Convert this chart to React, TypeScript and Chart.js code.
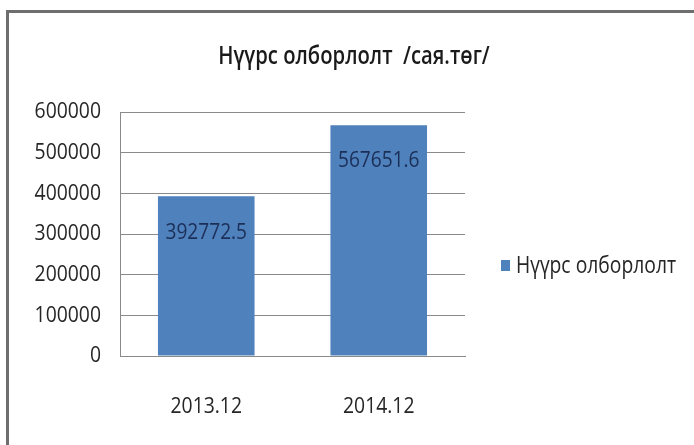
import React, { useEffect, useRef } from "react";
import { Chart, registerables } from "chart.js";
Chart.register(...registerables);

const categories = ["2013.12", "2014.12"];
const values = [392772.5, 567651.6];
const valueLabels = ["392772.5", "567651.6"];
const seriesName = "Нүүрс олборлолт";
const titleText = "Нүүрс олборлолт  /сая.төг/";
const yMin = 0;
const yMax = 600000;
const yStep = 100000;

const FONT = "'Open Sans', 'Liberation Sans', sans-serif";
const BAR = "#4F81BD";
const GRID = "#8a8a8a";
const TEXT = "#262626";

function drawText(
  ctx: CanvasRenderingContext2D,
  text: string,
  x: number,
  y: number,
  size: number,
  weight: string,
  sx: number,
  align: CanvasTextAlign,
  color: string
) {
  ctx.save();
  ctx.translate(x, y);
  ctx.scale(sx, 1);
  ctx.font = `${weight} ${size}px ${FONT}`;
  ctx.fillStyle = color;
  ctx.textAlign = align;
  ctx.textBaseline = "middle";
  ctx.fillText(text, 0, 0);
  ctx.restore();
}

const decor = {
  id: "decor",
  beforeDraw(chart: any) {
    const ctx = chart.ctx;
    ctx.save();
    ctx.fillStyle = "#ffffff";
    ctx.fillRect(0, 0, chart.width, chart.height);
    ctx.strokeStyle = "#6e6e6e";
    ctx.lineWidth = 3;
    ctx.beginPath();
    ctx.moveTo(7.5, chart.height);
    ctx.lineTo(7.5, 11.5);
    ctx.lineTo(chart.width, 11.5);
    ctx.stroke();
    ctx.restore();
  },
  afterDatasetsDraw(chart: any) {
    const ctx = chart.ctx;
    const meta = chart.getDatasetMeta(0);
    meta.data.forEach((el: any, i: number) => {
      drawText(ctx, valueLabels[i], el.x, el.y + 36, 22, "normal", 0.87, "center", "#1c2f57");
    });
  },
  afterDraw(chart: any) {
    const ctx = chart.ctx;
    // axis tick labels
    const ys = chart.scales.y;
    ys.ticks.forEach((t: any, i: number) => {
      drawText(ctx, String(t.value), 101, ys.getPixelForTick(i), 22, "normal", 0.88, "right", TEXT);
    });
    const xs = chart.scales.x;
    categories.forEach((c, i) => {
      drawText(ctx, c, xs.getPixelForTick(i), 407, 22, "normal", 0.88, "center", TEXT);
    });
    // title
    drawText(ctx, titleText, 354, 57, 25, "600", 0.81, "center", "#1a1a1a");
    // legend
    ctx.save();
    ctx.fillStyle = BAR;
    ctx.fillRect(501, 260, 9, 11);
    ctx.restore();
    drawText(ctx, seriesName, 516, 266, 23, "normal", 0.84, "left", TEXT);
  },
};

export default function App() {
  const ref = useRef<HTMLCanvasElement>(null);
  useEffect(() => {
    if (!ref.current) return;
    const chart = new Chart(ref.current, {
      type: "bar",
      data: {
        labels: categories,
        datasets: [
          {
            label: seriesName,
            data: values,
            backgroundColor: BAR,
            borderWidth: 0,
            barPercentage: 0.56,
            categoryPercentage: 1,
          },
        ],
      },
      options: {
        animation: false,
        responsive: false,
        layout: { padding: { left: 10, top: 112, right: 229, bottom: 29 } },
        plugins: {
          legend: { display: false },
          title: { display: false },
          tooltip: { enabled: false },
        },
        scales: {
          x: {
            grid: { display: false, drawTicks: false },
            border: { display: true, color: GRID, width: 1 },
            ticks: { display: false },
            afterFit(scale: any) {
              scale.height = 60;
            },
          },
          y: {
            min: yMin,
            max: yMax,
            grid: { color: GRID, drawTicks: false },
            border: { display: true, color: GRID, width: 1 },
            ticks: {
              display: false,
              stepSize: yStep,
            },
            afterFit(scale: any) {
              scale.width = 110;
            },
          },
        },
      },
      plugins: [decor],
    });
    return () => chart.destroy();
  }, []);
  return (
    <div style={{ position: "fixed", left: 0, top: 0, width: 694, height: 445 }}>
      <canvas ref={ref} width={694} height={445} style={{ width: 694, height: 445 }} />
    </div>
  );
}
